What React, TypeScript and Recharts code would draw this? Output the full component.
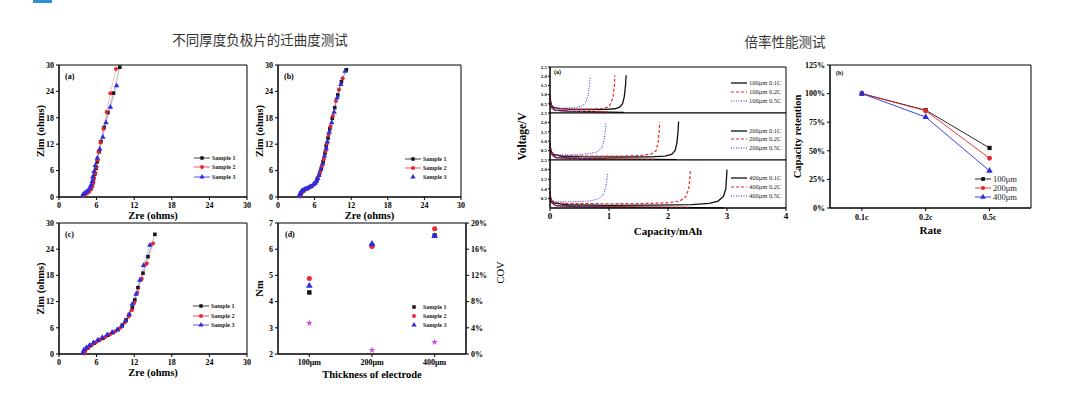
import React from 'react';
import {
  ScatterChart, Scatter, LineChart, Line, XAxis, YAxis, ReferenceArea, Label, Symbols,
} from 'recharts';

type Pt = [number, number];

// ---------- Nyquist plots (a)(b)(c) ----------
const zTicks = [0, 6, 12, 18, 24, 30];
const sampleNames = ['Sample 1', 'Sample 2', 'Sample 3'];

const nyqA1: Pt[] = [[3.9, 0.3], [4.1, 0.7], [4.4, 1.0], [4.7, 1.3], [5.0, 1.8], [5.2, 2.4], [5.4, 3.2], [5.5, 4.1], [5.7, 5.2], [5.9, 6.5], [6.1, 8.0], [6.4, 10.3], [6.7, 12.6], [7.2, 15.8], [7.8, 19.2], [8.7, 23.6], [9.7, 29.5]];
const nyqA2: Pt[] = [[3.9, 0.2], [4.2, 0.6], [4.5, 0.9], [4.8, 1.2], [5.1, 1.7], [5.3, 2.4], [5.5, 3.3], [5.6, 4.3], [5.8, 5.4], [6.0, 6.8], [6.2, 8.4], [6.3, 10.3], [6.6, 12.4], [7.1, 15.5], [7.6, 19.3], [8.2, 23.6], [9.1, 29.1]];
const nyqA3: Pt[] = [[3.8, 0.4], [4.0, 0.8], [4.3, 1.1], [4.6, 1.4], [4.9, 2.0], [5.1, 2.7], [5.3, 3.6], [5.4, 4.6], [5.6, 5.8], [5.8, 7.2], [6.1, 8.8], [6.5, 10.9], [7.0, 13.6], [7.5, 16.9], [8.2, 20.4], [9.2, 25.3]];

const nyqB1: Pt[] = [[3.6, 0.2], [3.8, 0.8], [4.2, 1.4], [4.8, 1.9], [5.4, 2.4], [6.0, 3.1], [6.4, 4.0], [6.8, 5.3], [7.1, 6.5], [7.4, 8.0], [7.7, 9.9], [7.9, 11.6], [8.2, 13.4], [8.5, 15.5], [8.9, 17.9], [9.3, 20.3], [9.8, 23.2], [10.4, 26.2], [11.2, 28.9]];
const nyqB2: Pt[] = [[3.6, 0.1], [3.9, 0.9], [4.3, 1.5], [4.9, 2.0], [5.6, 2.5], [6.2, 3.3], [6.5, 4.3], [6.9, 5.7], [7.2, 7.0], [7.5, 8.6], [7.8, 10.4], [8.0, 12.1], [8.3, 14.2], [8.6, 16.0], [9.0, 18.4], [9.5, 21.8], [10.0, 24.4], [10.6, 27.0]];
const nyqB3: Pt[] = [[3.5, 0.3], [3.6, 0.7], [3.7, 1.0], [3.9, 1.3], [4.0, 1.5], [4.3, 1.7], [4.5, 1.8], [4.8, 2.0], [5.1, 2.2], [5.4, 2.4], [5.8, 2.8], [6.1, 3.2], [6.3, 3.6], [6.5, 4.2], [6.7, 4.9], [7.0, 6.2], [7.3, 7.6], [7.6, 9.3], [7.9, 11.0], [8.1, 12.6], [8.4, 14.8], [8.8, 16.9], [9.2, 19.3], [9.7, 22.6], [10.3, 25.6], [11.0, 28.6]];

const nyqC1: Pt[] = [[3.9, 0.2], [4.1, 0.8], [4.5, 1.3], [5.0, 1.9], [5.6, 2.5], [6.3, 3.1], [7.0, 3.6], [7.8, 4.3], [8.6, 4.9], [9.4, 5.6], [10.1, 6.6], [10.7, 7.8], [11.2, 8.9], [11.7, 10.6], [12.1, 12.4], [12.6, 15.2], [13.4, 18.5], [14.2, 22.3], [15.3, 27.4]];
const nyqC2: Pt[] = [[4.0, 0.1], [4.2, 0.7], [4.7, 1.4], [5.3, 2.1], [5.9, 2.7], [6.6, 3.3], [7.4, 3.9], [8.2, 4.6], [9.0, 5.2], [9.8, 6.0], [10.5, 7.2], [11.1, 8.6], [11.6, 10.0], [12.0, 11.7], [12.5, 14.0], [13.2, 17.2], [14.0, 20.7], [15.0, 25.3]];
const nyqC3: Pt[] = [[3.8, 0.3], [4.0, 1.0], [4.4, 1.5], [4.9, 2.0], [5.5, 2.6], [6.2, 3.2], [6.9, 3.8], [7.7, 4.4], [8.5, 5.0], [9.3, 5.6], [10.0, 6.4], [10.6, 7.6], [11.2, 9.1], [11.7, 11.4], [12.3, 13.7], [12.9, 16.9], [13.5, 20.3], [14.5, 24.9]];

// ---------- (d) tortuosity ----------
const thickness = ['100μm', '200μm', '400μm'];
const nmS1 = [4.35, 6.15, 6.52];
const nmS2 = [4.88, 6.1, 6.78];
const nmS3 = [4.6, 6.2, 6.5];
const covPct = [4.7, 0.6, 1.8];
const nmTicks = [2, 3, 4, 5, 6, 7];
const covTicks = [0, 4, 8, 12, 16, 20];

// ---------- voltage profiles ----------
const capTicks = [0, 1, 2, 3, 4];
const voltTicks = [0.5, 1.0, 1.5, 2.0, 2.5];
const rateTags = ['0.1C', '0.2C', '0.5C'];

const chg100_01: Pt[] = [[0, 0.75], [0.02, 0.45], [0.06, 0.3], [0.15, 0.24], [0.4, 0.2], [0.7, 0.19], [0.95, 0.2], [1.1, 0.23], [1.18, 0.32], [1.23, 0.5], [1.26, 0.9], [1.28, 1.5], [1.29, 2.05]];
const chg100_02: Pt[] = [[0, 0.7], [0.02, 0.42], [0.06, 0.3], [0.15, 0.24], [0.4, 0.21], [0.7, 0.21], [0.9, 0.24], [0.98, 0.32], [1.03, 0.5], [1.07, 0.9], [1.09, 1.5], [1.1, 2.05]];
const chg100_05: Pt[] = [[0, 0.6], [0.02, 0.4], [0.06, 0.3], [0.15, 0.27], [0.3, 0.27], [0.45, 0.3], [0.55, 0.38], [0.61, 0.6], [0.65, 1.0], [0.67, 1.5], [0.68, 1.97]];
const dis100_01: Pt[] = [[0, 0.95], [0.02, 0.35], [0.08, 0.15], [0.3, 0.1], [0.7, 0.07], [1.0, 0.05], [1.25, 0.03]];
const dis100_02: Pt[] = [[0, 0.85], [0.02, 0.3], [0.08, 0.14], [0.3, 0.09], [0.7, 0.06], [1.05, 0.04]];
const dis100_05: Pt[] = [[0, 0.7], [0.02, 0.3], [0.08, 0.15], [0.3, 0.1], [0.6, 0.06]];

const chg200_01: Pt[] = [[0, 0.7], [0.02, 0.45], [0.06, 0.3], [0.2, 0.2], [0.6, 0.17], [1.2, 0.16], [1.7, 0.17], [1.95, 0.21], [2.06, 0.3], [2.12, 0.5], [2.15, 0.9], [2.17, 1.5], [2.18, 2.05]];
const chg200_02: Pt[] = [[0, 0.65], [0.02, 0.4], [0.06, 0.28], [0.2, 0.23], [0.6, 0.21], [1.2, 0.21], [1.55, 0.24], [1.72, 0.32], [1.8, 0.5], [1.83, 0.9], [1.85, 1.5], [1.86, 2.0]];
const chg200_05: Pt[] = [[0, 0.55], [0.02, 0.38], [0.06, 0.3], [0.2, 0.27], [0.45, 0.28], [0.65, 0.33], [0.8, 0.43], [0.88, 0.65], [0.92, 1.1], [0.94, 1.6], [0.95, 1.97]];
const dis200_01: Pt[] = [[0, 0.9], [0.02, 0.35], [0.1, 0.13], [0.5, 0.08], [1.2, 0.05], [1.8, 0.03], [2.15, 0.02]];
const dis200_02: Pt[] = [[0, 0.8], [0.02, 0.3], [0.1, 0.12], [0.5, 0.08], [1.2, 0.05], [1.8, 0.03]];
const dis200_05: Pt[] = [[0, 0.65], [0.02, 0.3], [0.1, 0.14], [0.4, 0.09], [0.9, 0.06]];

const chg400_01: Pt[] = [[0, 0.6], [0.02, 0.4], [0.08, 0.25], [0.3, 0.17], [1.0, 0.14], [1.8, 0.15], [2.4, 0.18], [2.7, 0.24], [2.85, 0.36], [2.94, 0.6], [2.98, 1.0], [2.99, 1.5], [3.0, 2.0]];
const chg400_02: Pt[] = [[0, 0.65], [0.02, 0.4], [0.08, 0.28], [0.3, 0.23], [1.0, 0.22], [1.6, 0.23], [2.0, 0.27], [2.2, 0.36], [2.3, 0.58], [2.35, 1.0], [2.37, 1.5], [2.38, 2.0]];
const chg400_05: Pt[] = [[0, 0.55], [0.02, 0.4], [0.08, 0.33], [0.2, 0.32], [0.45, 0.33], [0.65, 0.36], [0.8, 0.45], [0.9, 0.66], [0.94, 1.0], [0.96, 1.4], [0.98, 1.8]];
const dis400_01: Pt[] = [[0, 0.85], [0.02, 0.3], [0.1, 0.12], [0.5, 0.07], [1.5, 0.04], [2.5, 0.02], [2.95, 0.01]];
const dis400_02: Pt[] = [[0, 0.8], [0.02, 0.3], [0.1, 0.12], [0.5, 0.08], [1.5, 0.05], [2.35, 0.03]];
const dis400_05: Pt[] = [[0, 0.6], [0.02, 0.28], [0.1, 0.14], [0.4, 0.08], [0.95, 0.05]];

// ---------- rate retention ----------
const rates = ['0.1c', '0.2c', '0.5c'];
const ret100 = [100, 85.5, 52.5];
const ret200 = [100, 85, 43.5];
const ret400 = [100, 79.5, 32.5];
const retTicks = [0, 25, 50, 75, 100, 125];

// ---------- styles ----------
const serif = '"Liberation Serif", "Times New Roman", serif';
const cjk = '"Noto Sans CJK SC", "Noto Sans", sans-serif';
const BLACK = '#111';
const RED = '#e8262b';
const BLUE = '#2b2be0';
const MAGENTA = '#d24fd6';
const sampleColors = [BLACK, RED, BLUE];
const sampleShapes = ['square', 'circle', 'triangle'] as const;
const tickStyle = { fontFamily: serif, fontSize: 8, fontWeight: 700, fill: '#000' };
const axisTitle = { fontFamily: serif, fontSize: 10.5, fontWeight: 700, fill: '#000' };

const toXY = (pts: Pt[]) => pts.map(([x, y]) => ({ x, y }));
const byIndex = (vals: number[]) => vals.map((y, x) => ({ x, y }));

// fixed-size marker for Scatter points
const mark = (type: any, size: number, fill: string) => (p: any) => (
  <Symbols cx={p.cx} cy={p.cy} type={type} size={size} fill={fill} />
);

interface Box { x: number; y: number; w: number; h: number }
interface KeyRow { label: string; color: string; shape?: any; dash?: string; line?: boolean; lw?: number; size?: number }

const Key = ({ left, ys, rows, lineLen = 16, font = 6, bold = true }: { left: number; ys: number[]; rows: KeyRow[]; lineLen?: number; font?: number; bold?: boolean }) => (
  <>
    {rows.map((r, i) => (
      <div key={i} style={{ position: 'absolute', left, top: ys[i] - 5, height: 10, display: 'flex', alignItems: 'center', whiteSpace: 'nowrap' }}>
        <svg width={lineLen} height={10}>
          {r.line !== false && (
            <line x1={0} y1={5} x2={lineLen} y2={5} stroke={r.color} strokeWidth={r.lw ?? 0.8} strokeDasharray={r.dash} />
          )}
          {r.shape && <Symbols cx={lineLen / 2} cy={5} type={r.shape} size={r.size ?? 12} fill={r.color} />}
        </svg>
        <span style={{ fontFamily: serif, fontSize: font, fontWeight: bold ? 700 : 400, color: '#222', marginLeft: 2, lineHeight: '10px' }}>{r.label}</span>
      </div>
    ))}
  </>
);

const Tag = ({ x, y, text, size = 8 }: { x: number; y: number; text: string; size?: number }) => (
  <div style={{ position: 'absolute', left: x, top: y, fontFamily: serif, fontSize: size, fontWeight: 700, color: '#000', lineHeight: 1 }}>{text}</div>
);

const NyquistPanel = ({ box, data, tag, keyLeft, keyYs, noLine3 }: { box: Box; data: Pt[][]; tag: string; keyLeft: number; keyYs: number[]; noLine3?: boolean }) => {
  const yw = 40, xh = 30, rw = 12, tm = 10;
  return (
    <>
      <div style={{ position: 'absolute', left: box.x - yw, top: box.y - tm }}>
        <ScatterChart width={yw + box.w + rw} height={tm + box.h + xh} margin={{ top: tm, right: rw, bottom: 0, left: 0 }}>
          <XAxis type="number" dataKey="x" domain={[0, 30]} ticks={zTicks} interval={0} height={xh} tick={tickStyle} tickSize={3} tickMargin={2} stroke="#000">
            <Label value="Zre (ohms)" position="insideBottom" offset={8} style={axisTitle} />
          </XAxis>
          <YAxis type="number" dataKey="y" domain={[0, 30]} ticks={zTicks} interval={0} width={yw} tick={tickStyle} tickSize={3} tickMargin={2} stroke="#000">
            <Label value="Zim (ohms)" angle={-90} position="insideLeft" offset={21} style={{ ...axisTitle, textAnchor: 'middle' }} />
          </YAxis>
          <ReferenceArea x1={0} x2={30} y1={0} y2={30} fill="none" stroke="#000" strokeWidth={1} />
          {data.map((pts, i) => (
            <Scatter key={i} data={toXY(pts)} fill={sampleColors[i]} shape={mark(sampleShapes[i], 13, sampleColors[i])}
              line={{ stroke: sampleColors[i], strokeWidth: 0.5, strokeOpacity: 0.6 }} lineType="joint" isAnimationActive={false} />
          ))}
        </ScatterChart>
      </div>
      <Tag x={box.x + 6} y={box.y + 8} text={tag} />
      <Key left={keyLeft} ys={keyYs} rows={sampleNames.map((n, i) => ({ label: n, color: sampleColors[i], shape: sampleShapes[i], line: !(noLine3 && i === 2) }))} />
    </>
  );
};

const DPanel = ({ box }: { box: Box }) => {
  const yw = 40, xh = 30, rw = 42, tm = 10;
  const fmt = (i: number) => thickness[i] ?? '';
  return (
    <>
      <div style={{ position: 'absolute', left: box.x - yw, top: box.y - tm }}>
        <ScatterChart width={yw + box.w + rw} height={tm + box.h + xh} margin={{ top: tm, right: 0, bottom: 0, left: 0 }}>
          <XAxis type="number" dataKey="x" domain={[-0.5, 2.5]} ticks={[0, 1, 2]} tickFormatter={fmt} interval={0} height={xh} tick={tickStyle} tickSize={3} tickMargin={2} stroke="#000">
            <Label value="Thickness of electrode" position="insideBottom" offset={6} style={axisTitle} />
          </XAxis>
          <YAxis yAxisId="nm" type="number" dataKey="y" domain={[2, 7]} ticks={nmTicks} interval={0} width={yw} tick={tickStyle} tickSize={3} tickMargin={2} stroke="#000">
            <Label value="Nm" angle={-90} position="insideLeft" offset={21} style={{ ...axisTitle, textAnchor: 'middle' }} />
          </YAxis>
          <YAxis yAxisId="cov" orientation="right" type="number" dataKey="y" domain={[0, 20]} ticks={covTicks} interval={0} width={rw} tickFormatter={(v: number) => `${v}%`} tick={{ ...tickStyle, textAnchor: 'start' }} tickSize={3} tickMargin={2} stroke="#000">
            <Label value="COV" angle={-90} position="insideRight" offset={8} dy={-16} style={{ ...axisTitle, fontWeight: 400, textAnchor: 'middle' }} />
          </YAxis>
          <ReferenceArea yAxisId="nm" x1={-0.5} x2={2.5} y1={2} y2={7} fill="none" stroke="#000" strokeWidth={1} />
          {[nmS1, nmS2, nmS3].map((vals, i) => (
            <Scatter key={i} yAxisId="nm" data={byIndex(vals)} fill={sampleColors[i]} shape={mark(sampleShapes[i], 20, sampleColors[i])} isAnimationActive={false} />
          ))}
          <Scatter yAxisId="cov" data={byIndex(covPct)} fill={MAGENTA} shape={mark('star', 14, MAGENTA)} isAnimationActive={false} />
        </ScatterChart>
      </div>
      <Tag x={box.x + 7} y={box.y + 8} text="(d)" />
      <Key left={407} ys={[307, 316, 325]} lineLen={14} rows={sampleNames.map((n, i) => ({ label: n, color: sampleColors[i], shape: sampleShapes[i], line: false }))} />
    </>
  );
};

interface Curve { pts: Pt[]; color: string; dash?: string; lw: number }

const VoltBand = ({ box, curves, showX, showYLabel }: { box: Box; curves: Curve[]; showX?: boolean; showYLabel?: boolean }) => {
  const yw = 34, xh = showX ? 30 : 0, tm = 4, rw = 4;
  return (
    <div style={{ position: 'absolute', left: box.x - yw, top: box.y - tm }}>
      <LineChart width={yw + box.w + rw} height={tm + box.h + xh} margin={{ top: tm, right: rw, bottom: 0, left: 0 }}>
        <XAxis type="number" dataKey="x" domain={[0, 4]} ticks={capTicks} interval={0} hide={!showX} height={xh || 1} tick={{ ...tickStyle, fontSize: 9 }} tickSize={3} tickMargin={2} stroke="#000">
          <Label value="Capacity/mAh" position="insideBottom" offset={3} style={{ ...axisTitle, fontSize: 11 }} />
        </XAxis>
        <YAxis type="number" domain={[0, 2.5]} ticks={voltTicks} interval={0} width={yw} tickFormatter={(v: number) => v.toFixed(1)} tick={{ ...tickStyle, fontSize: 5 }} tickSize={2} tickMargin={1} stroke="#000">
          {showYLabel && <Label value="Voltage/V" angle={-90} position="insideLeft" offset={6} style={{ ...axisTitle, fontSize: 11.5, textAnchor: 'middle' }} />}
        </YAxis>
        <ReferenceArea x1={0} x2={4} y1={0} y2={2.5} fill="none" stroke="#000" strokeWidth={1} />
        {curves.map((c, i) => (
          <Line key={i} data={toXY(c.pts)} dataKey="y" type="linear" stroke={c.color} strokeWidth={c.lw} strokeDasharray={c.dash}
            dot={false} activeDot={false} isAnimationActive={false} />
        ))}
      </LineChart>
    </div>
  );
};

const styles01 = { color: BLACK, lw: 1.3 };
const styles02 = { color: RED, lw: 1.2, dash: '3 2' };
const styles05 = { color: BLUE, lw: 1, dash: '1 1.5' };
const bandCurves = (c1: Pt[], c2: Pt[], c5: Pt[], d1: Pt[], d2: Pt[], d5: Pt[]): Curve[] => [
  { pts: d1, ...styles01 }, { pts: d2, ...styles02 }, { pts: d5, ...styles05 },
  { pts: c1, ...styles01 }, { pts: c2, ...styles02 }, { pts: c5, ...styles05 },
];
const bandKey = (thick: string): KeyRow[] => [
  { label: `${thick} ${rateTags[0]}`, color: BLACK, lw: 1.3 },
  { label: `${thick} ${rateTags[1]}`, color: RED, lw: 1.2, dash: '3 2' },
  { label: `${thick} ${rateTags[2]}`, color: BLUE, lw: 1, dash: '1 1.5' },
];

const RatePanel = ({ box }: { box: Box }) => {
  const yw = 40, xh = 30, rw = 10, tm = 10;
  const fmt = (i: number) => rates[i] ?? '';
  const series = [ret100, ret200, ret400];
  return (
    <>
      <div style={{ position: 'absolute', left: box.x - yw, top: box.y - tm }}>
        <ScatterChart width={yw + box.w + rw} height={tm + box.h + xh} margin={{ top: tm, right: rw, bottom: 0, left: 0 }}>
          <XAxis type="number" dataKey="x" domain={[-0.5, 2.65]} ticks={[0, 1, 2]} tickFormatter={fmt} interval={0} height={xh} tick={tickStyle} tickSize={3} tickMargin={3} stroke="#000">
            <Label value="Rate" position="insideBottom" offset={4} style={{ ...axisTitle, fontSize: 11 }} />
          </XAxis>
          <YAxis type="number" dataKey="y" domain={[0, 125]} ticks={retTicks} interval={0} width={yw} tickFormatter={(v: number) => `${v}%`} tick={tickStyle} tickSize={3} tickMargin={2} stroke="#000">
            <Label value="Capacity retention" angle={-90} position="insideLeft" offset={7} style={{ ...axisTitle, fontSize: 10.5, textAnchor: 'middle' }} />
          </YAxis>
          <ReferenceArea x1={-0.5} x2={2.65} y1={0} y2={125} fill="none" stroke="#000" strokeWidth={1} />
          {series.map((vals, i) => (
            <Scatter key={i} data={byIndex(vals)} fill={sampleColors[i]} shape={mark(sampleShapes[i], 18, sampleColors[i])}
              line={{ stroke: sampleColors[i], strokeWidth: 0.9 }} lineType="joint" isAnimationActive={false} />
          ))}
        </ScatterChart>
      </div>
      <Tag x={box.x + 6} y={box.y + 5} text="(b)" size={6} />
      <Key left={975} ys={[179, 188, 197]} lineLen={16} font={8.5} bold={false}
        rows={thickness.map((t, i) => ({ label: t, color: sampleColors[i], shape: sampleShapes[i], lw: 0.9, size: 14 }))} />
    </>
  );
};

export default function App() {
  return (
    <div style={{ position: 'absolute', left: 0, top: 0, width: 1089, height: 397, background: '#fff', overflow: 'hidden' }}>
      <div style={{ position: 'absolute', left: 33, top: 0, width: 19, height: 3, background: '#2f8fd2' }} />
      <div style={{ position: 'absolute', left: 100, width: 320, top: 29, textAlign: 'center', fontFamily: cjk, fontSize: 13.5, color: '#333' }}>
        不同厚度负极片的迁曲度测试
      </div>
      <div style={{ position: 'absolute', left: 685, width: 200, top: 31, textAlign: 'center', fontFamily: cjk, fontSize: 13.5, color: '#333' }}>
        倍率性能测试
      </div>

      <NyquistPanel box={{ x: 59, y: 65, w: 188, h: 132 }} data={[nyqA1, nyqA2, nyqA3]} tag="(a)" keyLeft={194} keyYs={[158, 167, 177]} />
      <NyquistPanel box={{ x: 278, y: 65, w: 183, h: 132 }} data={[nyqB1, nyqB2, nyqB3]} tag="(b)" keyLeft={405} keyYs={[159, 168, 177]} noLine3 />
      <NyquistPanel box={{ x: 59, y: 223, w: 188, h: 131 }} data={[nyqC1, nyqC2, nyqC3]} tag="(c)" keyLeft={193} keyYs={[306, 316, 325]} />
      <DPanel box={{ x: 278, y: 223, w: 188, h: 131 }} />

      <VoltBand box={{ x: 550, y: 67, w: 236, h: 46 }} curves={bandCurves(chg100_01, chg100_02, chg100_05, dis100_01, dis100_02, dis100_05)} />
      <VoltBand box={{ x: 550, y: 113, w: 236, h: 47 }} curves={bandCurves(chg200_01, chg200_02, chg200_05, dis200_01, dis200_02, dis200_05)} showYLabel />
      <VoltBand box={{ x: 550, y: 160, w: 236, h: 48 }} curves={bandCurves(chg400_01, chg400_02, chg400_05, dis400_01, dis400_02, dis400_05)} showX />
      <Tag x={554} y={69} text="(a)" size={6} />
      <Key left={731} ys={[83, 92, 101]} lineLen={16} font={6.5} bold={false} rows={bandKey('100μm')} />
      <Key left={731} ys={[131, 139, 148]} lineLen={16} font={6.5} bold={false} rows={bandKey('200μm')} />
      <Key left={731} ys={[178, 187, 196]} lineLen={16} font={6.5} bold={false} rows={bandKey('400μm')} />

      <RatePanel box={{ x: 830, y: 65, w: 201, h: 143 }} />
    </div>
  );
}
